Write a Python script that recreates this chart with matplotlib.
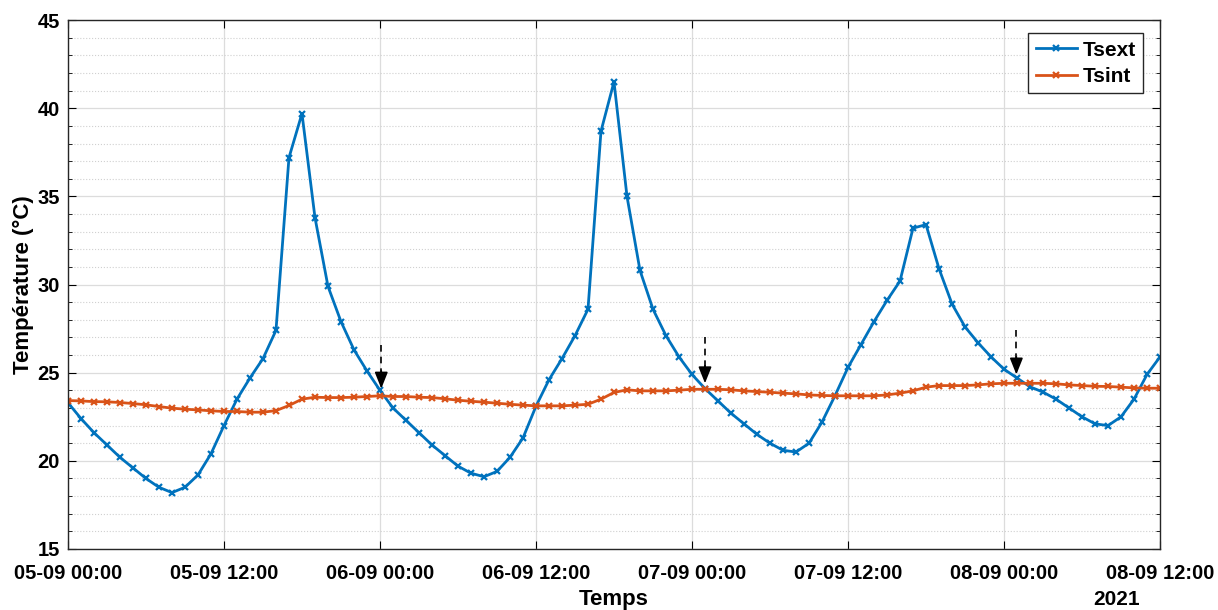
import numpy as np
import pandas as pd
import matplotlib
matplotlib.use("Agg")
import matplotlib.pyplot as plt
import matplotlib.dates as mdates
from matplotlib.ticker import MultipleLocator

plt.rcParams['font.family'] = ['Liberation Sans', 'DejaVu Sans']
plt.rcParams['font.weight'] = 'bold'

# hourly readings from 05-09-2021 00:00 to 08-09-2021 12:00
tsext = [23.3, 22.4, 21.6, 20.9, 20.2, 19.6, 19.0, 18.5, 18.2, 18.5, 19.2, 20.4,
         22.0, 23.5, 24.7, 25.8, 27.4, 37.2, 39.7, 33.8, 29.9, 27.9, 26.3, 25.1,
         24.0, 23.0, 22.3, 21.6, 20.9, 20.3, 19.7, 19.3, 19.1, 19.4, 20.2, 21.3,
         23.1, 24.6, 25.8, 27.1, 28.6, 38.7, 41.5, 35.0, 30.8, 28.6, 27.1, 25.9,
         24.9, 24.1, 23.4, 22.7, 22.1, 21.5, 21.0, 20.6, 20.5, 21.0, 22.2, 23.7,
         25.3, 26.6, 27.9, 29.1, 30.2, 33.2, 33.4, 30.9, 28.9, 27.6, 26.7, 25.9,
         25.2, 24.7, 24.2, 23.9, 23.5, 23.0, 22.5, 22.1, 22.0, 22.5, 23.5, 24.9,
         25.9]
tsint = [23.42, 23.40, 23.36, 23.35, 23.31, 23.25, 23.18, 23.08, 22.99, 22.93, 22.89, 22.84,
         22.80, 22.80, 22.76, 22.76, 22.85, 23.14, 23.50, 23.61, 23.59, 23.59, 23.61, 23.65,
         23.69, 23.65, 23.65, 23.61, 23.59, 23.52, 23.44, 23.38, 23.33, 23.27, 23.21, 23.16,
         23.12, 23.12, 23.12, 23.16, 23.21, 23.50, 23.88, 24.03, 23.97, 23.97, 23.97, 24.01,
         24.06, 24.06, 24.06, 24.03, 23.97, 23.93, 23.89, 23.84, 23.80, 23.74, 23.71, 23.69,
         23.69, 23.69, 23.69, 23.74, 23.84, 23.97, 24.18, 24.27, 24.27, 24.27, 24.31, 24.37,
         24.40, 24.40, 24.40, 24.40, 24.37, 24.31, 24.27, 24.23, 24.22, 24.18, 24.14, 24.12,
         24.12]
times = pd.date_range("2021-09-05 00:00", periods=len(tsext), freq="h")

# dashed arrows: (hour, top value, tip value)
arrow_hours = [24.1, 49.0, 72.95]
arrow_top = [26.6, 27.0, 27.4]
arrow_tip = [24.1, 24.4, 24.9]

blue = "#0072BD"
orange = "#D95319"

fig = plt.figure(figsize=(12.18, 6.10), dpi=100)
ax = fig.add_axes([0.0558, 0.1, 0.8966, 0.867])

ax.plot(times, tsext, color=blue, lw=2, marker="x", ms=4, mew=1.6, label="Tsext")
ax.plot(times, tsint, color=orange, lw=2, marker="x", ms=4, mew=1.6, label="Tsint")

t0 = times[0]
for h, top, tip in zip(arrow_hours, arrow_top, arrow_tip):
    t = t0 + pd.Timedelta(hours=h)
    ax.plot([t, t], [top, tip + 0.6], color="k", lw=1.2, ls=(0, (4, 3)))
    ax.annotate("", xy=(t, tip), xytext=(t, tip + 1.0),
                arrowprops=dict(arrowstyle="-|>,head_length=1.0,head_width=0.4",
                                color="k", lw=1.2, shrinkA=0, shrinkB=0))

ax.set_xlim(times[0], times[-1])
ax.set_ylim(15, 45)
ax.xaxis.set_major_locator(mdates.HourLocator(byhour=[0, 12]))
ax.xaxis.set_major_formatter(mdates.DateFormatter("%d-%m %H:%M"))
ax.yaxis.set_major_locator(MultipleLocator(5))
ax.yaxis.set_minor_locator(MultipleLocator(1))

ax.grid(True, which="major", color="#dcdcdc", lw=0.9)
ax.grid(True, which="minor", axis="y", color="#d0d0d0", lw=0.8, ls=":")
ax.set_axisbelow(True)

ax.tick_params(which="both", direction="in", top=True, right=True, labelsize=14.5)
ax.tick_params(which="major", length=6)
ax.tick_params(which="minor", length=3)
ax.tick_params(axis="x", pad=11)
ax.tick_params(axis="y", pad=6)
for lab in ax.get_xticklabels() + ax.get_yticklabels():
    lab.set_fontweight("bold")
for s in ax.spines.values():
    s.set_color("#262626")
    s.set_linewidth(1.0)

ax.set_ylabel("Température (°C)", fontsize=16, fontweight="bold", labelpad=2)
ax.set_xlabel("Temps", fontsize=16, fontweight="bold", labelpad=4)
ax.text(0.982, -0.077, "2021", transform=ax.transAxes, ha="right", va="top",
        fontsize=15, fontweight="bold")

leg = ax.legend(loc="upper right", bbox_to_anchor=(0.9844, 0.975),
                prop={"weight": "bold", "size": 15}, fancybox=False,
                edgecolor="#262626", framealpha=1, handlelength=2.0,
                borderpad=0.35, labelspacing=0.35, handletextpad=0.25,
                borderaxespad=0)
leg.get_frame().set_linewidth(1.0)

fig.savefig("out.png", dpi=100)
